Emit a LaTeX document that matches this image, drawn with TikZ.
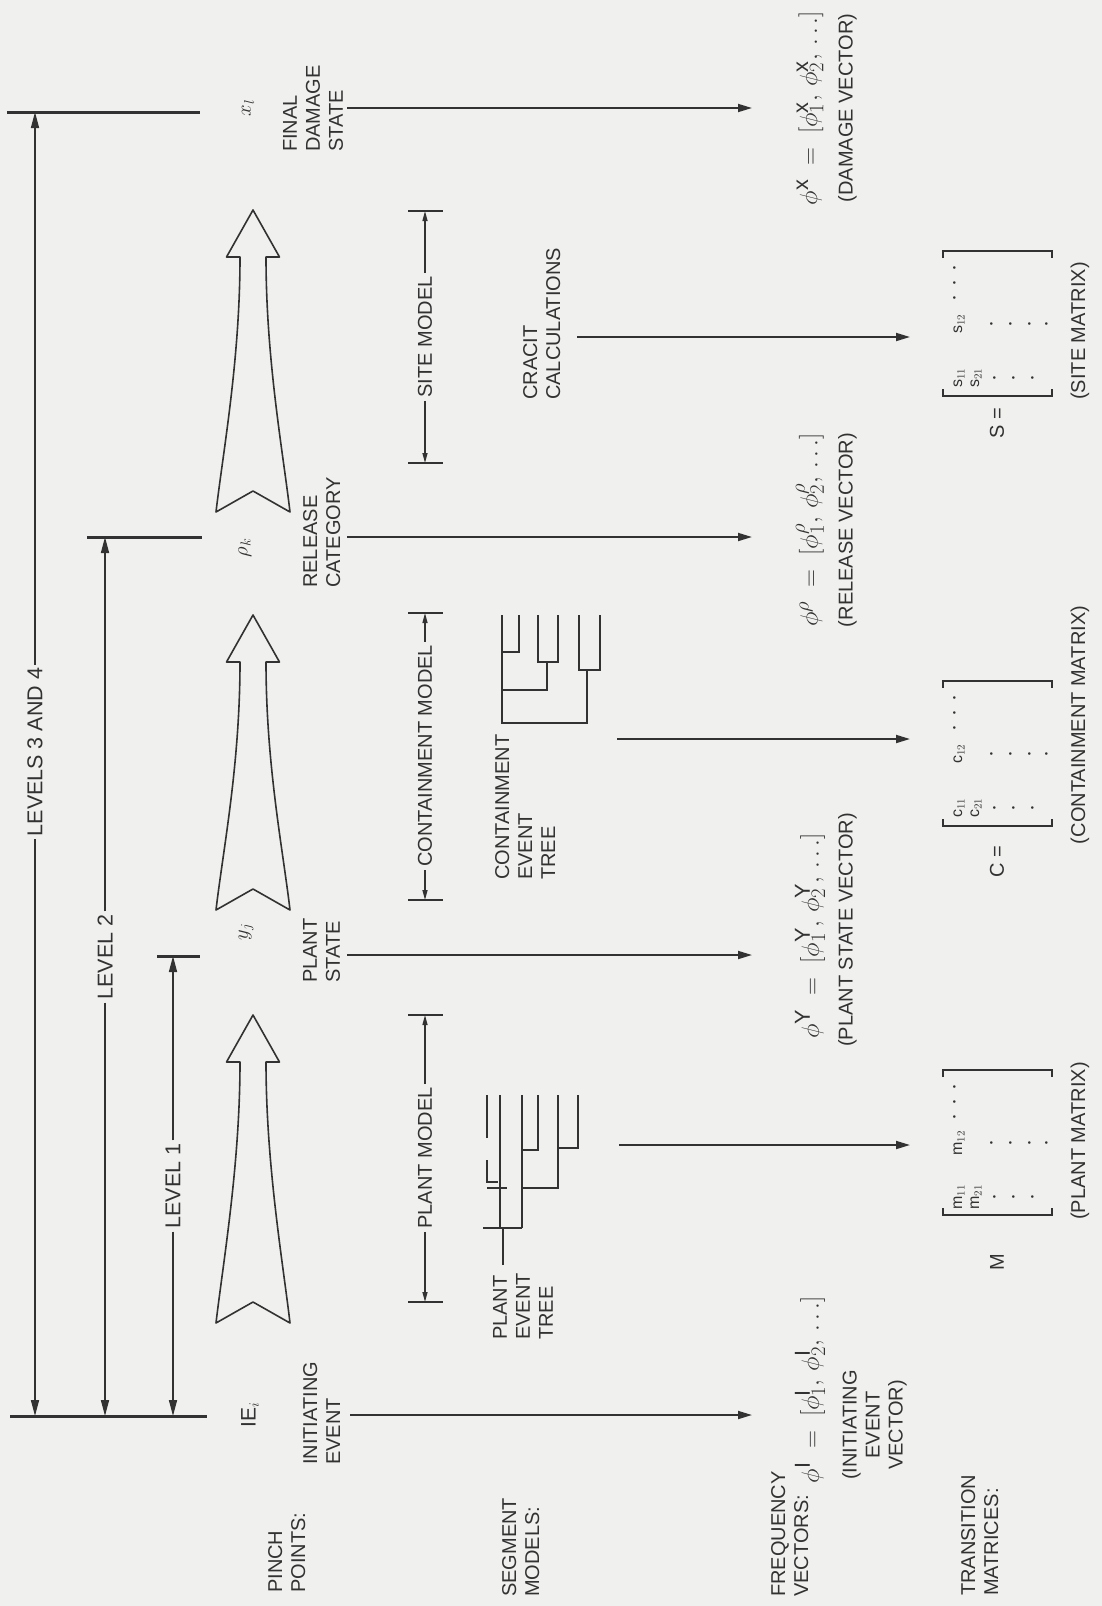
\documentclass[tikz,border=0pt]{standalone}
\usepackage{fontspec}
\setmainfont{Liberation Sans}
\usetikzlibrary{arrows.meta}
\definecolor{bgc}{RGB}{240,240,238}
\definecolor{ink}{RGB}{50,50,50}
\newcommand\hollowarr[2]{%
  \draw[harrow] (253,#1) -- (279.5,#1+47) -- (266,#1+47)
    .. controls (266,#1+150) and (283,#2-60) .. (290,#2)
    -- (253,#2-21) -- (216,#2)
    .. controls (223,#2-60) and (240,#1+150) .. (240,#1+47)
    -- (226.5,#1+47) -- cycle;}
\newcommand\mymatrix[3]{% #1 bottom y, #2 letter, #3 name prefix
  \draw[brk] (943,#1-7) -- (943,#1) -- (1052,#1) -- (1052,#1-7);
  \draw[brk] (943,#1-138) -- (943,#1-145) -- (1052,#1-145) -- (1052,#1-138);
  \node[ent] (#3a) at (959,#1-18) {#2$_{11}$};
  \node[ent] (#3b) at (959,#1-72) {#2$_{12}$};
  \node[ent] (#3c) at (976,#1-18) {#2$_{21}$};
  \node[dotn] (#3d1) at (955,#1-98) {$\cdot$};
  \node[dotn] (#3d2) at (955,#1-113) {$\cdot$};
  \node[dotn] (#3d3) at (955,#1-128) {$\cdot$};
  \node[dotn] (#3e1) at (995,#1-18) {$\cdot$};
  \node[dotn] (#3e2) at (1014,#1-18) {$\cdot$};
  \node[dotn] (#3e3) at (1033,#1-18) {$\cdot$};
  \node[dotn] (#3f1) at (992,#1-72) {$\cdot$};
  \node[dotn] (#3f2) at (1011,#1-72) {$\cdot$};
  \node[dotn] (#3f3) at (1030,#1-72) {$\cdot$};
  \node[dotn] (#3f4) at (1047,#1-72) {$\cdot$};}
\begin{document}
\begin{tikzpicture}[x=1pt,y=-1pt,
  every node/.style={text=ink},
  txt/.style={rotate=90, inner sep=0pt, font=\fontsize{20}{23}\selectfont, align=left},
  lvltxt/.style={rotate=90, inner sep=3pt, font=\fontsize{21.5}{24}\selectfont},
  mtxt/.style={rotate=90, inner sep=3pt, font=\fontsize{20}{23}\selectfont},
  sym/.style={rotate=90, inner sep=0pt, font=\fontsize{21}{24}\selectfont},
  fml/.style={rotate=90, inner sep=0pt, font=\fontsize{31}{33}\selectfont},
  ent/.style={rotate=90, inner sep=0pt, font=\fontsize{16}{18}\selectfont},
  dotn/.style={rotate=90, inner sep=0pt, font=\fontsize{24}{24}\selectfont},
  bar/.style={draw=ink, line width=3pt},
  mbar/.style={draw=ink, line width=2.2pt},
  dimline/.style={draw=ink, line width=1.6pt, -{Triangle[length=16pt,width=8pt]}},
  mdim/.style={draw=ink, line width=1.4pt, -{Triangle[length=10pt,width=5pt]}},
  flow/.style={draw=ink, line width=1.8pt, -{Triangle[length=14pt,width=8pt]}},
  harrow/.style={draw=ink, line width=1.6pt, line join=round},
  tree/.style={draw=ink, line width=1.5pt},
  brk/.style={draw=ink, line width=2.8pt},
]
\useasboundingbox (0,0) rectangle (1102,1606);
\fill[bgc] (0,0) rectangle (1102,1606);

% ---- pinch point bars
\coordinate (pIEa) at (10,1416);  \coordinate (pIEb) at (207,1416);
\coordinate (pL1a) at (157,956);  \coordinate (pL1b) at (200,956);
\coordinate (pL2a) at (87,537);   \coordinate (pL2b) at (202,537);
\coordinate (pL3a) at (7,112);    \coordinate (pL3b) at (200,112);
\draw[bar] (pIEa) -- (pIEb);
\draw[bar] (pL1a) -- (pL1b);
\draw[bar] (pL2a) -- (pL2b);
\draw[bar] (pL3a) -- (pL3b);

% ---- level dimension lines
\coordinate (t3) at (35,112);  \coordinate (b3) at (35,1416);
\coordinate (t2) at (105,537); \coordinate (b2) at (105,1416);
\coordinate (t1) at (173,956); \coordinate (b1) at (173,1416);
\node[lvltxt] (lv3) at (35,752) {LEVELS 3 AND 4};
\node[lvltxt] (lv2) at (105,957) {LEVEL 2};
\node[lvltxt] (lv1) at (173,1186) {LEVEL 1};
\draw[dimline] (lv3.east) -- (t3);
\draw[dimline] (lv3.west) -- (b3);
\draw[dimline] (lv2.east) -- (t2);
\draw[dimline] (lv2.west) -- (b2);
\draw[dimline] (lv1.east) -- (t1);
\draw[dimline] (lv1.west) -- (b1);

% ---- hollow arrows
\hollowarr{1015}{1323}
\hollowarr{615}{910}
\hollowarr{210}{512}

% ---- pinch point symbols and names
\node[sym] (ie) at (250,1415) {IE$_i$};
\node[sym] (yj) at (246,932) {$y_j$};
\node[sym] (rk) at (245,548) {$\rho_k$};
\node[sym] (xl) at (248,108) {$x_l$};
\node[txt, anchor=north west] (pinchL) at (268,1593) {PINCH\\POINTS:};
\node[txt, anchor=north west] (ieL) at (303,1465) {INITIATING\\EVENT};
\node[txt, anchor=north west] (psL) at (303,983) {PLANT\\STATE};
\node[txt, anchor=north west] (rcL) at (303,588) {RELEASE\\CATEGORY};
\node[txt, anchor=north west] (fdL) at (283,152) {FINAL\\DAMAGE\\STATE};

% ---- arrows pinch -> vectors
\coordinate (aIs) at (350,1415); \coordinate (aIe) at (752,1415);
\coordinate (aYs) at (347,955);  \coordinate (aYe) at (752,955);
\coordinate (aRs) at (347,537);  \coordinate (aRe) at (752,537);
\coordinate (aXs) at (347,108);  \coordinate (aXe) at (752,108);
\draw[flow] (aIs) -- (aIe);
\draw[flow] (aYs) -- (aYe);
\draw[flow] (aRs) -- (aRe);
\draw[flow] (aXs) -- (aXe);

% ---- segment models
\node[txt, anchor=north west] (segL) at (502,1597) {SEGMENT\\MODELS:};
\node[mtxt] (pm) at (425,1158) {PLANT MODEL};
\node[mtxt] (cm) at (425,756) {CONTAINMENT MODEL};
\node[mtxt] (sm) at (425,337) {SITE MODEL};
\coordinate (pmT) at (425,1015); \coordinate (pmB) at (425,1302);
\coordinate (cmT) at (425,613);  \coordinate (cmB) at (425,900);
\coordinate (smT) at (425,211);  \coordinate (smB) at (425,463);
\draw[mbar] (408,1015) -- (443,1015);
\draw[mbar] (408,1302) -- (443,1302);
\draw[mbar] (408,613) -- (443,613);
\draw[mbar] (408,900) -- (443,900);
\draw[mbar] (408,211) -- (443,211);
\draw[mbar] (408,463) -- (443,463);
\draw[mdim] (pm.east) -- (pmT);
\draw[mdim] (pm.west) -- (pmB);
\draw[mdim] (cm.east) -- (cmT);
\draw[mdim] (cm.west) -- (cmB);
\draw[mdim] (sm.east) -- (smT);
\draw[mdim] (sm.west) -- (smB);

% ---- plant event tree
\draw[tree] (503,1265) -- (503,1228);
\draw[tree] (483,1228) -- (522,1228);
\draw[tree] (522,1228) -- (522,1095);
\draw[tree] (522,1188) -- (558,1188) -- (558,1095);
\draw[tree] (558,1148) -- (578,1148) -- (578,1095);
\draw[tree] (522,1150) -- (538,1150) -- (538,1095);
\draw[tree] (500,1228) -- (500,1095);
\draw[tree] (487,1188) -- (507,1188);
\draw[tree] (498,1182) -- (487,1182) -- (487,1160);
\draw[tree] (487,1138) -- (487,1095);
\node[txt, anchor=north west] (petL) at (493,1340) {PLANT\\EVENT\\TREE};

% ---- containment event tree
\draw[tree] (502,615) -- (502,723) -- (587,723) -- (587,670);
\draw[tree] (579,615) -- (579,670) -- (600,670) -- (600,615);
\draw[tree] (502,690) -- (547,690) -- (547,662);
\draw[tree] (538,615) -- (538,662) -- (558,662) -- (558,615);
\draw[tree] (502,652) -- (519,652) -- (519,615);
\node[txt, anchor=north west] (cetL) at (495,880) {CONTAINMENT\\EVENT\\TREE};

% ---- cracit
\node[txt, anchor=north west] (ccL) at (523,400) {CRACIT\\CALCULATIONS};

% ---- arrows models -> matrices
\coordinate (mPs) at (619,1145); \coordinate (mPe) at (910,1145);
\coordinate (mCs) at (617,739);  \coordinate (mCe) at (910,739);
\coordinate (mSs) at (577,337);  \coordinate (mSe) at (910,337);
\draw[flow] (mPs) -- (mPe);
\draw[flow] (mCs) -- (mCe);
\draw[flow] (mSs) -- (mSe);

% ---- frequency vectors
\node[txt, anchor=north west] (freqL) at (771,1597) {FREQUENCY\\VECTORS:};
\node[fml] (fI) at (810,1390) {$\phi^{\mathrm{I}} \;=\; [\phi^{\mathrm{I}}_1,\, \phi^{\mathrm{I}}_2,\, \ldots]$};
\node[fml] (fY) at (810,936) {$\phi^{\mathrm{Y}} \;=\; [\phi^{\mathrm{Y}}_1,\, \phi^{\mathrm{Y}}_2,\, \ldots]$};
\node[fml] (fR) at (810,530) {$\phi^{\rho} \;=\; [\phi^{\rho}_1,\, \phi^{\rho}_2,\, \ldots]$};
\node[fml] (fX) at (810,108) {$\phi^{\mathrm{x}} \;=\; [\phi^{\mathrm{x}}_1,\, \phi^{\mathrm{x}}_2,\, \ldots]$};
\node[txt, align=center, anchor=north] (fIl) at (842,1425) {(INITIATING\\EVENT\\VECTOR)};
\node[txt, anchor=north] (fYl) at (838,930) {(PLANT STATE VECTOR)};
\node[txt, anchor=north] (fRl) at (838,530) {(RELEASE VECTOR)};
\node[txt, anchor=north] (fXl) at (838,108) {(DAMAGE VECTOR)};

% ---- transition matrices
\node[txt, anchor=north west] (transL) at (961,1596) {TRANSITION\\MATRICES:};
\mymatrix{1215}{m}{mm}
\mymatrix{826}{c}{cc}
\mymatrix{396}{s}{ss}
\node[txt] (Mlab) at (997,1262) {M};
\node[txt] (Clab) at (997,862) {C =};
\node[txt] (Slab) at (997,423) {S =};
\node[txt] (Mcap) at (1080,1141) {(PLANT MATRIX)};
\node[txt] (Ccap) at (1080,725) {(CONTAINMENT MATRIX)};
\node[txt] (Scap) at (1080,331) {(SITE MATRIX)};
\end{tikzpicture}
\end{document}
